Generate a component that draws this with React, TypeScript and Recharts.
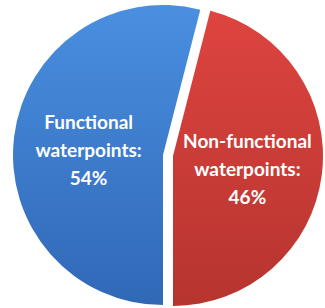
import { PieChart, Pie, Cell } from 'recharts';

const categories = ['Functional waterpoints', 'Non-functional waterpoints'];
const shares = [54, 46];
const labelLines = [
  ['Functional', 'waterpoints:', '54%'],
  ['Non-functional', 'waterpoints:', '46%'],
];
const fills = ['url(#blueGrad)', 'url(#redGrad)'];

const data = categories.map((name, i) => ({ name, value: shares[i] }));

const RAD = Math.PI / 180;

// only the label of the slice this pie shows is drawn
const makeLabel = (showIndex: number) => (props: any) => {
  const { cx, cy, midAngle, outerRadius, index } = props;
  if (index !== showIndex) return null;
  const r = outerRadius * 0.5;
  const x = cx + r * Math.cos(-midAngle * RAD);
  const y = cy + r * Math.sin(-midAngle * RAD) + 11;
  return (
    <text
      x={x}
      y={y}
      fill="#ffffff"
      textAnchor="middle"
      fontFamily="Lato, 'Open Sans', sans-serif"
      fontWeight="bold"
      fontSize={19}
    >
      {labelLines[index].map((line, k) => (
        <tspan key={k} x={x} y={y + (k - 1) * 28}>
          {line}
        </tspan>
      ))}
    </text>
  );
};

export default function App() {
  return (
    <div style={{ position: 'absolute', left: 0, top: 0, background: '#ffffff' }}>
      <PieChart width={325} height={308} margin={{ top: 0, right: 0, bottom: 0, left: 0 }}>
        <defs>
          <linearGradient id="blueGrad" x1="0" y1="0" x2="0" y2="1">
            <stop offset="0%" stopColor="#4a8fe0" />
            <stop offset="100%" stopColor="#3068b6" />
          </linearGradient>
          <linearGradient id="redGrad" x1="0" y1="0" x2="0" y2="1">
            <stop offset="0%" stopColor="#de4440" />
            <stop offset="100%" stopColor="#b6342f" />
          </linearGradient>
        </defs>
        <Pie
          data={data}
          dataKey="value"
          cx={163}
          cy={155}
          outerRadius={150}
          startAngle={-90}
          endAngle={-450}
          stroke="none"
          labelLine={false}
          label={makeLabel(0)}
          isAnimationActive={false}
        >
          {data.map((d, i) => (
            <Cell key={d.name} fill={i === 0 ? fills[0] : 'none'} />
          ))}
        </Pie>
        <Pie
          data={data}
          dataKey="value"
          cx={173}
          cy={156}
          outerRadius={150}
          startAngle={-90}
          endAngle={-450}
          stroke="none"
          labelLine={false}
          label={makeLabel(1)}
          isAnimationActive={false}
        >
          {data.map((d, i) => (
            <Cell key={d.name} fill={i === 1 ? fills[1] : 'none'} />
          ))}
        </Pie>
      </PieChart>
    </div>
  );
}
